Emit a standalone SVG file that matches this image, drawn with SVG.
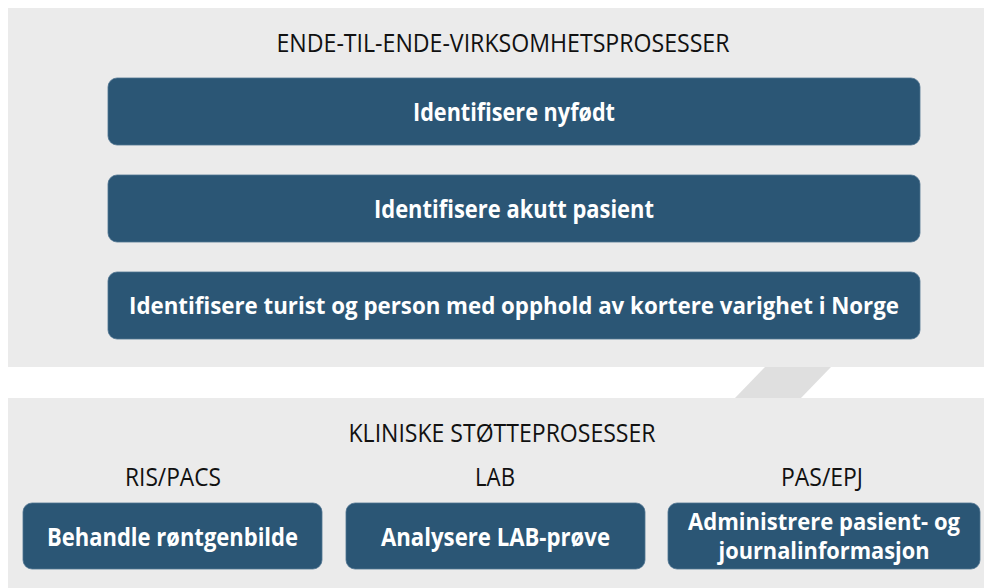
<svg xmlns="http://www.w3.org/2000/svg" width="984" height="588" viewBox="0 0 984 588">
<style>
.panel{fill:#ebebeb}
.box{fill:#2b5675;stroke:#4f7390;stroke-width:0.8}
.hd{font-family:"Open Sans","Liberation Sans",sans-serif;font-size:25px;fill:#111;text-anchor:middle}
.bt{font-family:"Open Sans","Liberation Sans",sans-serif;font-size:25px;font-weight:bold;fill:#fff;text-anchor:middle}
</style>
<rect width="984" height="588" fill="#ffffff"/>
<g id="top-panel">
<rect class="panel" x="8" y="8" width="976" height="359"/>
<text class="hd" x="503" y="52" style="font-size:26px" textLength="453" lengthAdjust="spacingAndGlyphs">ENDE-TIL-ENDE-VIRKSOMHETSPROSESSER</text>
</g>
<g id="connectors">
<polygon points="765,367 831,367 801,398 735,398" fill="#dfdfdf"/>
</g>
<g id="bottom-panel">
<rect class="panel" x="8" y="398" width="976" height="190"/>
<text class="hd" x="502" y="442" textLength="307" lengthAdjust="spacingAndGlyphs">KLINISKE STØTTEPROSESSER</text>
<text class="hd" x="173" y="486" textLength="96" lengthAdjust="spacingAndGlyphs">RIS/PACS</text>
<text class="hd" x="495" y="486" textLength="40" lengthAdjust="spacingAndGlyphs">LAB</text>
<text class="hd" x="822" y="486" textLength="82" lengthAdjust="spacingAndGlyphs">PAS/EPJ</text>
</g>
<g id="n1">
<rect class="box" x="108" y="78" width="812" height="67" rx="9"/>
<text class="bt" x="514" y="121" textLength="202" lengthAdjust="spacingAndGlyphs">Identifisere nyfødt</text>
</g>
<g id="n2">
<rect class="box" x="108" y="175" width="812" height="67" rx="9"/>
<text class="bt" x="514" y="218" textLength="280" lengthAdjust="spacingAndGlyphs">Identifisere akutt pasient</text>
</g>
<g id="n3">
<rect class="box" x="108" y="272" width="812" height="67" rx="9"/>
<text class="bt" x="514" y="314" style="font-size:24px" textLength="770" lengthAdjust="spacingAndGlyphs">Identifisere turist og person med opphold av kortere varighet i Norge</text>
</g>
<g id="n4">
<rect class="box" x="23" y="503" width="299" height="66" rx="9"/>
<text class="bt" x="172.5" y="546" textLength="251" lengthAdjust="spacingAndGlyphs">Behandle røntgenbilde</text>
</g>
<g id="n5">
<rect class="box" x="346" y="503" width="299" height="66" rx="9"/>
<text class="bt" x="495.5" y="546" textLength="229" lengthAdjust="spacingAndGlyphs">Analysere LAB-prøve</text>
</g>
<g id="n6">
<rect class="box" x="668" y="503" width="312" height="66" rx="9"/>
<text class="bt" x="824" y="530" style="font-size:23px" textLength="272" lengthAdjust="spacingAndGlyphs">Administrere pasient- og</text>
<text class="bt" x="824" y="559" style="font-size:23px" textLength="211" lengthAdjust="spacingAndGlyphs">journalinformasjon</text>
</g>
</svg>
